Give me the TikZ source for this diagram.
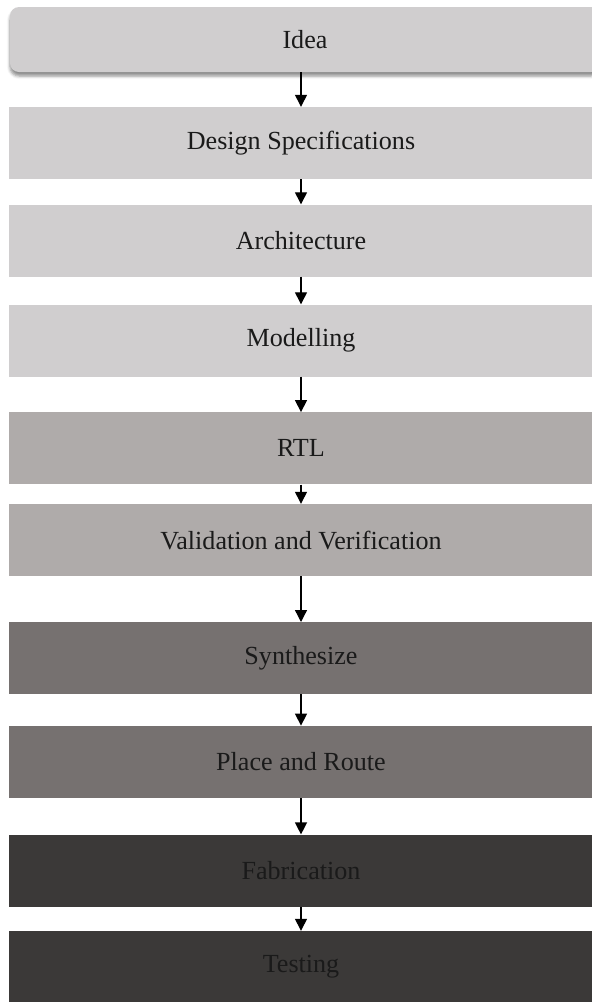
\documentclass[tikz,border=0pt]{standalone}
\usepackage{fontspec}
\setmainfont{Liberation Serif}
\usetikzlibrary{arrows.meta,shadows.blur}

\definecolor{stageA}{HTML}{D0CECF}
\definecolor{stageB}{HTML}{AFABAA}
\definecolor{stageC}{HTML}{767170}
\definecolor{stageD}{HTML}{3B3938}
\definecolor{ink}{HTML}{1A1A1A}

\begin{document}
\begin{tikzpicture}[x=1bp,y=-1bp,
  stagebox/.style={rectangle, inner sep=0pt, minimum width=584bp,
    text=ink, font=\fontsize{26.2}{30}\selectfont},
  flow/.style={line width=1.3bp, draw=black,
    -{Triangle[length=12bp,width=12bp]}}]
  \clip (0,0) rectangle (592,1002);
  \useasboundingbox (0,0) rectangle (592,1002);

  % first stage: rounded box with a soft drop shadow, running past the right edge
  \node[stagebox, fill=stageA, minimum width=590bp, minimum height=65bp,
        rounded corners=9bp,
        blur shadow={shadow xshift=0bp, shadow yshift=-4bp,
                     shadow blur radius=3bp, shadow opacity=45}]
        (idea) at (305,39.5) {Idea};

  % remaining stages
  \node[stagebox, fill=stageA, minimum height=72bp] (spec)  at (301,143)   {Design Specifications};
  \node[stagebox, fill=stageA, minimum height=72bp] (arch)  at (301,240.5) {Architecture};
  \node[stagebox, fill=stageA, minimum height=72bp] (model) at (301,340.5) {Modelling};
  \node[stagebox, fill=stageB, minimum height=72bp] (rtl)   at (301,448.3) {RTL};
  \node[stagebox, fill=stageB, minimum height=72bp] (valid) at (301,540)   {Validation and Verification};
  \node[stagebox, fill=stageC, minimum height=72bp] (synth) at (301,658.2) {Synthesize};
  \node[stagebox, fill=stageC, minimum height=72bp] (pnr)   at (301,761.8) {Place and Route};
  \node[stagebox, fill=stageD, minimum height=72bp] (fab)   at (301,870.6) {Fabrication};
  \node[stagebox, fill=stageD, minimum height=72bp] (test)  at (301,967)   {Testing};

  % connectors between consecutive stages
  \draw[flow] (idea.south -| spec.north) -- (spec.north);
  \draw[flow] (spec.south)  -- (arch.north);
  \draw[flow] (arch.south)  -- (model.north);
  \draw[flow] (model.south) -- (rtl.north);
  \draw[flow] (rtl.south)   -- (valid.north);
  \draw[flow] (valid.south) -- (synth.north);
  \draw[flow] (synth.south) -- (pnr.north);
  \draw[flow] (pnr.south)   -- (fab.north);
  \draw[flow] (fab.south)   -- (test.north);
\end{tikzpicture}
\end{document}
